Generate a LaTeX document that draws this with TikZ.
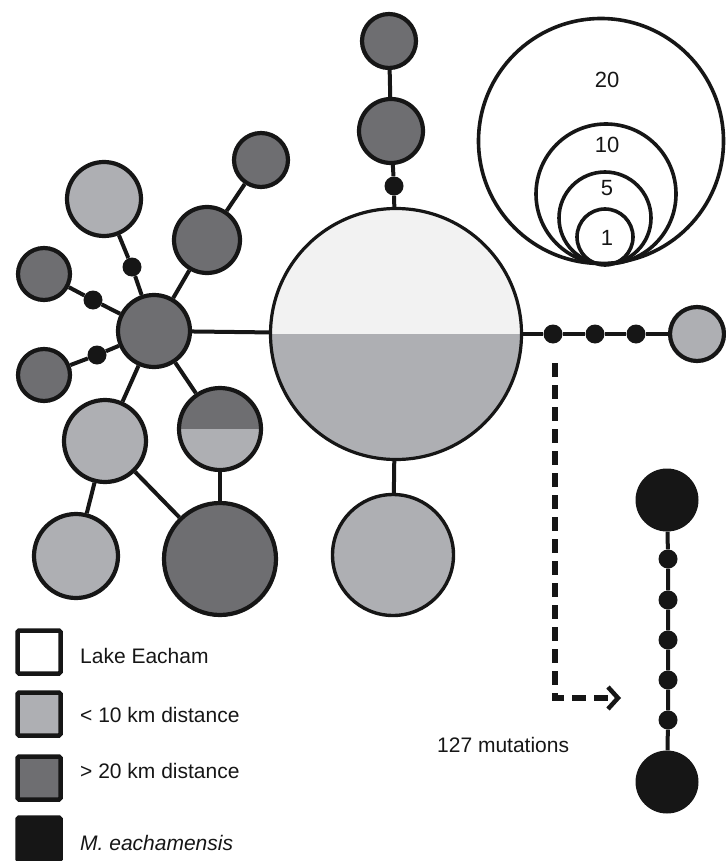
\documentclass[tikz,border=0pt]{standalone}
\usepackage{fontspec}
\setmainfont{Liberation Sans}
\usetikzlibrary{arrows.meta}
\definecolor{lgray}{RGB}{174,175,179}
\definecolor{dgray}{RGB}{110,110,113}
\definecolor{ltop}{RGB}{242,242,242}
\definecolor{ink}{RGB}{22,22,22}
\begin{document}
\begin{tikzpicture}[x=1pt,y=-1pt,
  hap/.style={circle, draw=ink, line width=4.2pt, inner sep=0pt, minimum size=#1},
  lg/.style={hap=#1, fill=lgray},
  dg/.style={hap=#1, fill=dgray},
  blk/.style={circle, fill=ink, inner sep=0pt, minimum size=#1},
  mut/.style={circle, fill=ink, inner sep=0pt, minimum size=19pt},
  link/.style={draw=ink, line width=4pt},
  scalec/.style={circle, draw=ink, line width=3.6pt, inner sep=0pt, minimum size=#1},
  lbl/.style={font=\fontsize{21}{24}\selectfont, inner sep=0pt, text=ink},
  slbl/.style={font=\fontsize{22}{24}\selectfont, inner sep=0pt, text=ink},
  legbox/.style={rectangle, draw=ink, line width=4.5pt, minimum size=43pt, inner sep=0pt, rounded corners=1.5pt},
]
\useasboundingbox (0,0) rectangle (725,861);

% central haplotype
\node[hap=251pt, line width=3.2pt, path picture={
  \fill[ltop] (path picture bounding box.north west) rectangle (path picture bounding box.east);
  \fill[lgray] (path picture bounding box.west) rectangle (path picture bounding box.south east);}] (big) at (396,334) {};

% top chain
\node[mut] (tm) at (394,186) {};
\node[dg=64pt] (t2) at (391,131) {};
\node[dg=54pt] (t1) at (389,41) {};
\draw[link] (big) -- (tm) -- (t2) -- (t1);

% bottom
\node[lg=121pt, line width=3.4pt] (bm) at (393,555) {};
\draw[link] (big) -- (bm);

% right chain
\node[mut] (r1) at (553,334) {};
\node[mut] (r2) at (595,334) {};
\node[mut] (r3) at (636,334) {};
\node[lg=54pt] (rc) at (697,334) {};
\draw[link] (big) -- (r1) -- (r2) -- (r3) -- (rc);

% left hub
\node[dg=72pt] (hub) at (154,331) {};
\draw[link] (hub) -- (big);
\node[mut] (hm1) at (132,267) {};
\node[lg=74pt] (ul) at (104,199) {};
\draw[link] (hub) -- (hm1) -- (ul);
\node[dg=66pt] (ur1) at (207,240) {};
\node[dg=54pt] (ur2) at (261,160) {};
\draw[link] (hub) -- (ur1) -- (ur2);
\node[mut] (hm2) at (93,300) {};
\node[dg=52pt] (l1) at (44,274) {};
\draw[link] (hub) -- (hm2) -- (l1);
\node[mut] (hm3) at (97,355) {};
\node[dg=52pt] (l2) at (44,375) {};
\draw[link] (hub) -- (hm3) -- (l2);

\node[lg=82pt] (ml) at (105,441) {};
\node[hap=82pt, path picture={
  \fill[dgray] (path picture bounding box.north west) rectangle (path picture bounding box.east);
  \fill[lgray] (path picture bounding box.west) rectangle (path picture bounding box.south east);}] (half) at (220,429) {};
\node[lg=84pt] (bl) at (76,556) {};
\node[dg=112pt] (bd) at (220,559) {};
\draw[link] (hub) -- (ml);
\draw[link] (hub) -- (half);
\draw[link] (ml) -- (bl);
\draw[link] (ml) -- (bd);
\draw[link] (half) -- (bd);

% outgroup chain
\node[blk=63pt] (o1) at (667,500) {};
\node[mut] (om1) at (668,559) {};
\node[mut] (om2) at (668,600) {};
\node[mut] (om3) at (668,640) {};
\node[mut] (om4) at (668,680) {};
\node[mut] (om5) at (668,720) {};
\node[blk=63pt] (o2) at (667,782) {};
\draw[link] (o1) -- (om1) -- (om2) -- (om3) -- (om4) -- (om5) -- (o2);

% dashed arrow
\coordinate (ds) at (555,363);
\coordinate (de) at (621,698);
\draw[ink, line width=5.5pt, dash pattern=on 14pt off 8pt,
  -{Straight Barb[length=10pt,width=22pt,line width=4.5pt]}] (ds) |- (de);
\node[lbl, anchor=base west] (mutlbl) at (437,752) {127 mutations};

% size scale
\node[scalec=245pt] (s20) at (601,141) {};
\node[scalec=140pt] (s10) at (606,194) {};
\node[scalec=92pt] (s5) at (605,218) {};
\node[scalec=56pt] (s1) at (605,237) {};
\node[slbl] (l20) at (607,80) {20};
\node[slbl] (l10) at (607,145) {10};
\node[slbl] (l5) at (607,188) {5};
\node[slbl] (l1) at (607,238) {1};

% legend
\node[legbox, fill=white] (k1) at (39,652) {};
\node[legbox, fill=lgray] (k2) at (39,714) {};
\node[legbox, fill=dgray] (k3) at (39,778) {};
\node[legbox, fill=ink] (k4) at (39,839) {};
\node[lbl, anchor=base west] (t1l) at (80,663) {Lake Eacham};
\node[lbl, anchor=base west] (t2l) at (80,722) {< 10 km distance};
\node[lbl, anchor=base west] (t3l) at (80,778) {> 20 km distance};
\node[lbl, anchor=base west] (t4l) at (80,850) {\itshape M. eachamensis};
\end{tikzpicture}
\end{document}
